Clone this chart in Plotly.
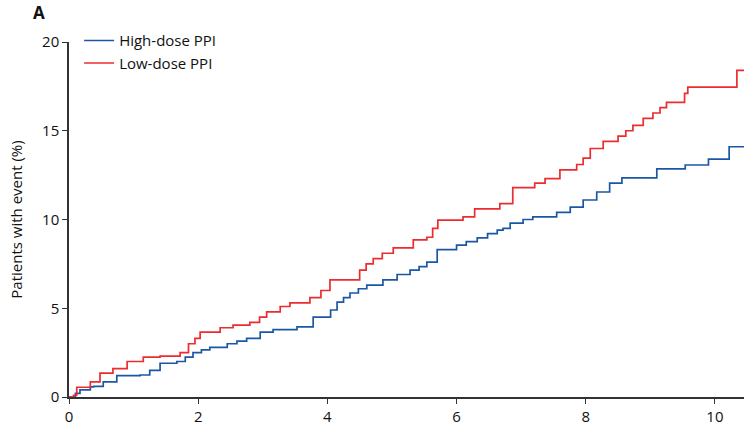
import plotly.graph_objects as go

# Time (years) and cumulative event (%)
high_t = [0, 0.1, 0.17, 0.33, 0.38, 0.53, 0.74, 1.1, 1.25, 1.41, 1.67, 1.8, 1.92, 2.05, 2.18, 2.45,
          2.6, 2.75, 2.96, 3.16, 3.53, 3.78, 3.96, 4.05, 4.15, 4.25, 4.35, 4.48, 4.61, 4.86, 5.08, 5.28, 5.42, 5.54,
          5.7, 6.0, 6.15, 6.32, 6.48, 6.63, 6.72, 6.83, 7.03, 7.18, 7.55, 7.76, 7.96, 8.17, 8.37,
          8.56, 9.1, 9.54, 9.9, 10.22, 10.45]
high_v = [0, 0.2, 0.4, 0.57, 0.6, 0.85, 1.2, 1.24, 1.5, 1.9, 2.0, 2.25, 2.5, 2.65, 2.8, 3.0,
          3.15, 3.3, 3.66, 3.8, 3.95, 4.5, 4.5, 4.9, 5.35, 5.6, 5.86, 6.1, 6.3, 6.6, 6.9, 7.15, 7.35, 7.6,
          8.3, 8.56, 8.75, 8.96, 9.2, 9.4, 9.5, 9.8, 10.0, 10.15, 10.4, 10.7, 11.1, 11.55, 12.05,
          12.34, 12.85, 13.07, 13.4, 14.1, 14.1]

low_t = [0, 0.07, 0.12, 0.33, 0.48, 0.68, 0.9, 1.15, 1.41, 1.72, 1.85, 1.95, 2.03, 2.34, 2.54,
         2.8, 2.95, 3.06, 3.27, 3.42, 3.73, 3.9, 4.04, 4.27, 4.5, 4.6, 4.71, 4.85, 5.02, 5.33, 5.54,
         5.63, 5.71, 6.1, 6.28, 6.67, 6.87, 7.21, 7.37, 7.6, 7.75, 7.86, 7.96, 8.07, 8.27, 8.5,
         8.62, 8.73, 8.89, 9.04, 9.15, 9.25, 9.49, 9.53, 9.58, 10.34, 10.45]
low_v = [0, 0.1, 0.55, 0.85, 1.35, 1.6, 2.0, 2.25, 2.3, 2.5, 3.0, 3.3, 3.66, 3.9, 4.05,
         4.2, 4.5, 4.8, 5.1, 5.3, 5.6, 6.0, 6.6, 6.6, 7.15, 7.5, 7.8, 8.1, 8.4, 8.85, 9.0,
         9.5, 9.97, 10.15, 10.6, 10.9, 11.8, 12.05, 12.3, 12.8, 12.8, 13.1, 13.46, 14.0, 14.4, 14.7,
         15.0, 15.3, 15.7, 16.0, 16.3, 16.6, 16.6, 17.1, 17.46, 18.4, 18.4]

series_names = ["High-dose PPI", "Low-dose PPI"]
series_colors = ["#1c57a5", "#ec2c2f"]

x_ticks = [0, 2, 4, 6, 8, 10]
y_ticks = [0, 5, 10, 15, 20]

fig = go.Figure()
fig.add_trace(go.Scatter(x=high_t, y=high_v, mode="lines", name=series_names[0],
                         line=dict(color=series_colors[0], width=1.7, shape="hv")))
fig.add_trace(go.Scatter(x=low_t, y=low_v, mode="lines", name=series_names[1],
                         line=dict(color=series_colors[1], width=1.7, shape="hv")))

font_family = "Open Sans, Noto Sans, sans-serif"

fig.update_layout(
    width=744, height=425,
    margin=dict(l=69, r=0, t=42, b=28),
    paper_bgcolor="white", plot_bgcolor="white",
    font=dict(family=font_family, size=14, color="#111"),
    showlegend=True,
    legend=dict(x=0.015, y=1.05, xanchor="left", yanchor="top",
                bgcolor="rgba(0,0,0,0)", font=dict(size=15, color="#111"),
                itemwidth=30, tracegroupgap=0),
    xaxis=dict(range=[0, 10.45], tickvals=x_ticks, ticks="outside", ticklen=5,
               tickwidth=1.2, tickcolor="#333", showline=True, linecolor="#333",
               linewidth=1.5, showgrid=False, zeroline=False, automargin=False,
               tickfont=dict(size=15, color="#111")),
    yaxis=dict(range=[0, 20], tickvals=y_ticks, ticks="outside", ticklen=5,
               tickwidth=1.2, tickcolor="#333", showline=True, linecolor="#333",
               linewidth=1.5, showgrid=False, zeroline=False, automargin=False,
               tickfont=dict(size=15, color="#111"),
               title=dict(text="Patients with event (%)", font=dict(size=15, color="#111"),
                          standoff=16)),
    annotations=[dict(text="<b>A</b>", xref="paper", yref="paper", x=-0.045, y=1.0,
                      xanchor="center", yanchor="bottom", yshift=16, showarrow=False,
                      font=dict(size=17, color="#111", family=font_family))],
)

fig.write_html("out.html")
